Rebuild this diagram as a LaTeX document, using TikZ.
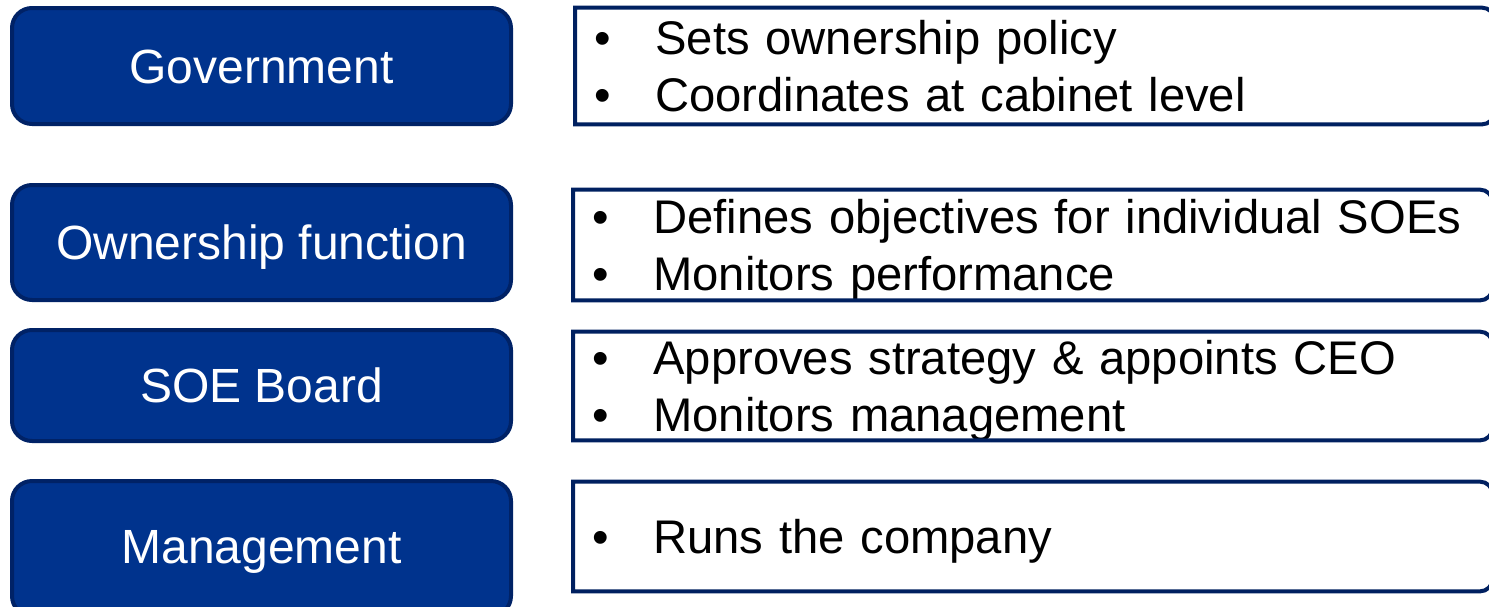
\documentclass[tikz,border=0pt]{standalone}
\usepackage{fontspec}
\setmainfont{Liberation Sans}
\usepackage{tikz}
\usepackage{xcolor}
\definecolor{role-blue}{RGB}{0,51,141}
\definecolor{role-navy}{RGB}{0,34,102}
\definecolor{duty-navy}{RGB}{0,32,96}
\newcommand{\dutyitem}[1]{\makebox[30.5pt][l]{\textbullet}#1}
\tikzset{
    role-box/.style = {draw=role-navy, fill=role-blue, line width=2pt, rectangle, rounded corners=10pt, minimum width=249.5pt, text=white, text height=17.2pt, text depth=0pt, font=\fontsize{24}{28.5}\selectfont},
    duty-box/.style = {rectangle, anchor=west, inner xsep=9.5pt, inner ysep=0pt, text width=440.5pt, align=left, text height=17pt, text depth=28.5pt, font=\fontsize{23.6}{28.5}\selectfont},
    duty-line/.style = {draw=duty-navy, line width=2pt},
}

\begin{document}
\begin{tikzpicture}[x=0.5pt, y=-0.5pt]
\useasboundingbox (0,0) rectangle (1489,606);

\node [role-box, minimum height=58pt] (gov) at (261.5,66) {Government};
\node [role-box, minimum height=57.5pt] (own) at (261.5,242.5) {Ownership function};
\node [role-box, minimum height=55.5pt] (board) at (261.5,385.5) {SOE Board};
\node [role-box, minimum height=67.5pt, text height=14.5pt] (mgmt) at (261.5,548.5) {Management};

\node [duty-box, minimum height=58pt] (gov-duty) at (575,66)
    {\dutyitem{Sets ownership policy}\\ \dutyitem{Coordinates at cabinet level}};
\node [duty-box, minimum height=55pt] (own-duty) at (573,245)
    {\dutyitem{Defines objectives for individual SOEs}\\ \dutyitem{Monitors performance}};
\node [duty-box, minimum height=54pt] (board-duty) at (573,386)
    {\dutyitem{Approves strategy \& appoints CEO}\\ \dutyitem{Monitors management}};
\node [duty-box, minimum height=54.5pt, text depth=0pt] (mgmt-duty) at (573,536.5)
    {\dutyitem{Runs the company}};

% frames: square on the left, rounded on the right
\foreach \n in {gov-duty, own-duty, board-duty, mgmt-duty}
    \draw [duty-line] (\n.south west) -- (\n.north west)
        -- ([xshift=-6.5pt]\n.north east) arc[start angle=90, end angle=0, radius=6.5pt]
        -- ([yshift=6.5pt]\n.south east) arc[start angle=0, end angle=-90, radius=6.5pt]
        -- cycle;
\end{tikzpicture}
\end{document}
